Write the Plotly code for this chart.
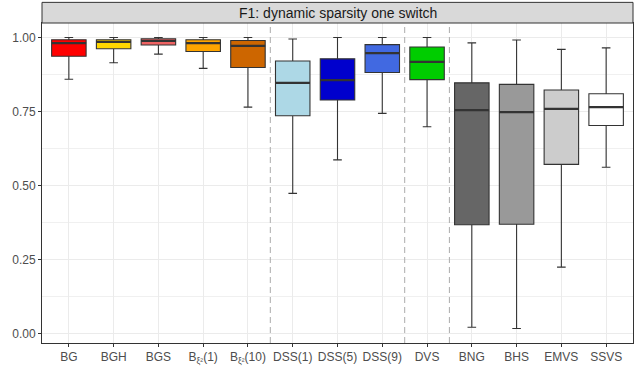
import plotly.graph_objects as go

categories = ["BG", "BGH", "BGS", "B<sub>ξ²</sub>(1)", "B<sub>ξ²</sub>(10)", "DSS(1)", "DSS(5)", "DSS(9)",
              "DVS", "BNG", "BHS", "EMVS", "SSVS"]
lower_whisker = [0.859, 0.915, 0.944, 0.896, 0.765, 0.474, 0.587, 0.744, 0.699, 0.022, 0.018, 0.225, 0.562]
q1 = [0.937, 0.962, 0.975, 0.953, 0.899, 0.736, 0.789, 0.882, 0.858, 0.368, 0.370, 0.572, 0.703]
median = [0.981, 0.985, 0.989, 0.981, 0.972, 0.847, 0.856, 0.947, 0.918, 0.755, 0.748, 0.759, 0.765]
q3 = [0.9925, 0.9925, 0.996, 0.9925, 0.990, 0.921, 0.928, 0.976, 0.968, 0.847, 0.842, 0.823, 0.810]
upper_whisker = [1.0, 1.0, 1.0, 1.0, 1.0, 0.995, 1.0, 1.0, 1.0, 0.982, 0.9915, 0.960, 0.965]
fill_colors = ["#FF0000", "#FFD700", "#EE6363", "#FFA500", "#CD6600", "#ADD8E6", "#0000CD", "#4169E1",
               "#00CD00", "#666666", "#999999", "#CCCCCC", "#FFFFFF"]
separators = [4.5, 7.5, 8.5]
y_ticks = [0.0, 0.25, 0.5, 0.75, 1.0]
y_tick_labels = ["0.00", "0.25", "0.50", "0.75", "1.00"]
title_text = "F1: dynamic sparsity one switch"

fig = go.Figure()
for i, cat in enumerate(categories):
    fig.add_trace(go.Box(
        x=[cat], q1=[q1[i]], median=[median[i]], q3=[q3[i]],
        lowerfence=[lower_whisker[i]], upperfence=[upper_whisker[i]],
        fillcolor=fill_colors[i], line=dict(color="#333333", width=1.1),
        width=0.77, whiskerwidth=0.25, boxpoints=False, showlegend=False,
        name=cat,
    ))
    # thicker median bar (ggplot fatten)
    fig.add_trace(go.Box(
        x=[cat], q1=[median[i]], median=[median[i]], q3=[median[i]],
        lowerfence=[median[i]], upperfence=[median[i]],
        fillcolor="rgba(0,0,0,0)", line=dict(color="#333333", width=2.2),
        width=0.77, whiskerwidth=0, boxpoints=False, showlegend=False,
        name=cat, hoverinfo="skip",
    ))

for s in separators:
    fig.add_shape(type="line", xref="x", yref="paper", x0=s, x1=s, y0=0, y1=1,
                  line=dict(color="#B3B3B3", width=1.1, dash="6px,4px"), layer="above")

# facet strip
fig.add_shape(type="rect", xref="paper", yref="paper", x0=0, x1=1, y0=1, y1=1.0645,
              fillcolor="#D9D9D9", line=dict(color="#333333", width=1))
fig.add_annotation(text=title_text, xref="paper", yref="paper", x=0.5, y=1.032,
                   showarrow=False, font=dict(size=14, color="#1A1A1A"), yanchor="middle")

fig.update_layout(
    width=640, height=367,
    margin=dict(l=41.5, r=7, t=23.3, b=24, autoexpand=False),
    paper_bgcolor="white", plot_bgcolor="white",
    font=dict(family="Liberation Sans, Arial, sans-serif", size=12, color="#4D4D4D"),
    boxmode="overlay",
)
fig.update_xaxes(
    type="category", categoryorder="array", categoryarray=categories,
    range=[-0.6, 12.6], showgrid=True, gridcolor="#EBEBEB", gridwidth=1,
    showline=True, linecolor="#333333", linewidth=1, mirror=True,
    ticks="outside", ticklen=3, tickcolor="#333333", tickwidth=1,
    tickfont=dict(size=12, color="#4D4D4D"), zeroline=False, automargin=False,
)
fig.update_yaxes(
    range=[-0.031, 1.049], tickvals=y_ticks, ticktext=y_tick_labels,
    showgrid=True, gridcolor="#EBEBEB", gridwidth=1,
    minor=dict(tickvals=[0.125, 0.375, 0.625, 0.875], showgrid=True, gridcolor="#F0F0F0", gridwidth=0.6, ticks=""),
    showline=True, linecolor="#333333", linewidth=1, mirror=True,
    ticks="outside", ticklen=3, tickcolor="#333333", tickwidth=1,
    tickfont=dict(size=12, color="#4D4D4D"), zeroline=False, automargin=False,
)

fig.write_html("out.html", config={"displayModeBar": False},
               post_script="document.body.style.margin='0';document.body.style.overflow='hidden';")
